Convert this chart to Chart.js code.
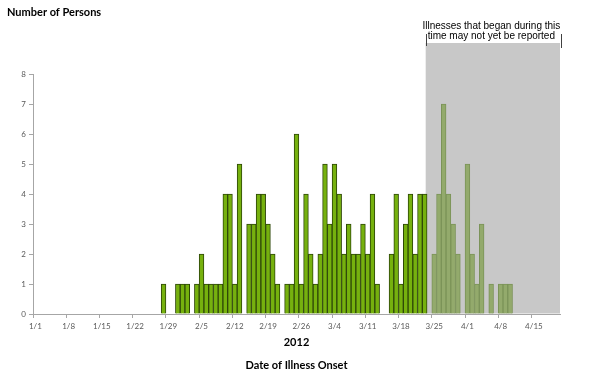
<!DOCTYPE html>
<html>
<head>
<meta charset="utf-8">
<script src="https://cdn.jsdelivr.net/npm/chart.js@4.4.1/dist/chart.umd.min.js"></script>
<style>
  html, body { margin: 0; padding: 0; background: #fff; }
  canvas { display: block; }
</style>
</head>
<body>
<canvas id="epiCurve" width="600" height="380"></canvas>
<script>
// persons by date of illness onset, 2012 -- one array per month, one value per day
const janCases = [0,0,0,0,0,0,0,0,0,0, 0,0,0,0,0,0,0,0,0,0, 0,0,0,0,0,0,0,1,0,0, 1];
const febCases = [1,1,0,1,2,1,1,1,1,4, 4,1,5,0,3,3,4,4,3,2, 1,0,1,1,6,1,4,2,1];
const marCases = [2,5,3,5,4,2,3,2,2,3, 2,4,1,0,0,2,4,1,3,4, 2,4,4,0,2,4,7,4,3,2, 0];
const aprCases = [5,2,1,3,0,1,0,1,1,1, 0,0,0,0,0,0,0,0,0,0];

const xTickLabels = ['1/1','1/8','1/15','1/22','1/29','2/5','2/12','2/19','2/26',
                     '3/4','3/11','3/18','3/25','4/1','4/8','4/15'];
const yMax = 8;
const pendingFrom = '3/24'; // illnesses from here on may not yet be reported
const noteLines = ['Illnesses that began during this', 'time may not yet be reported'];

const months = [janCases, febCases, marCases, aprCases];
const days = months.flatMap((m, mi) => m.map((_, d) => (mi + 1) + '/' + (d + 1)));
const cases = months.flat();
const cut = days.indexOf(pendingFrom);
const reported = cases.map((v, i) => (i < cut && v) ? v : null);
const pending = cases.map((v, i) => (i >= cut && v) ? v : null);

const axisGrey = '#A6A6A6';
const tickFont = { family: 'Lato', size: 8 };

// grey "may not yet be reported" box + bracket note + y title
const overlay = {
  id: 'overlay',
  beforeDatasetsDraw(chart) {
    const { ctx, chartArea, scales } = chart;
    const left = scales.x.getPixelForValue(cut - 1) + 1;
    ctx.save();
    ctx.fillStyle = '#C8C8C8';
    ctx.fillRect(left, 43, chartArea.right - left, chartArea.bottom - 43 - 0.5);
    ctx.restore();
  },
  afterDraw(chart) {
    const { ctx, chartArea, scales } = chart;
    const left = scales.x.getPixelForValue(cut - 1) + 1;
    const right = chartArea.right + 1;
    ctx.save();
    ctx.strokeStyle = '#404040';
    ctx.lineWidth = 1;
    ctx.beginPath();
    ctx.moveTo(Math.round(left) + 0.5, 34);
    ctx.lineTo(Math.round(left) + 0.5, 46);
    ctx.moveTo(Math.round(right) + 0.5, 34);
    ctx.lineTo(Math.round(right) + 0.5, 48);
    ctx.stroke();

    ctx.fillStyle = '#000';
    ctx.textAlign = 'center';
    ctx.textBaseline = 'middle';
    ctx.font = '10px "Liberation Sans", Arial, sans-serif';
    ctx.fillText(noteLines[0], (left + right) / 2 - 2, 26);
    ctx.fillText(noteLines[1], (left + right) / 2 - 2, 36.5);

    ctx.textAlign = 'left';
    ctx.font = 'bold 11px Lato, sans-serif';
    ctx.fillText('Number of Persons', 7, 12);
    ctx.restore();
  }
};

new Chart(document.getElementById('epiCurve'), {
  type: 'bar',
  data: {
    labels: days,
    datasets: [
      {
        label: 'Reported',
        data: reported,
        backgroundColor: '#76B10E',
        borderColor: '#2E4808',
        borderWidth: 1,
        barPercentage: 1,
        categoryPercentage: 1
      },
      {
        label: 'May not yet be reported',
        data: pending,
        backgroundColor: '#93AA6C',
        borderColor: '#7B9358',
        borderWidth: 1,
        barPercentage: 1,
        categoryPercentage: 1
      }
    ]
  },
  options: {
    responsive: false,
    animation: false,
    layout: { padding: { top: 74, right: 40, left: 0, bottom: 0 } },
    plugins: {
      legend: { display: false },
      tooltip: { enabled: false }
    },
    scales: {
      x: {
        stacked: true,
        afterFit: s => { s.height = 66; },
        border: { color: axisGrey },
        grid: {
          drawOnChartArea: false,
          tickLength: 4,
          color: c => xTickLabels.includes(days[c.index]) ? axisGrey : 'rgba(0,0,0,0)'
        },
        ticks: {
          autoSkip: false,
          maxRotation: 0,
          padding: 4,
          color: '#595959',
          font: tickFont,
          callback: (v, i) => xTickLabels.includes(days[i]) ? days[i] : ''
        },
        title: {
          display: true,
          text: ['2012', 'Date of Illness Onset'],
          color: '#000',
          font: { family: 'Lato', size: 11, weight: 'bold', lineHeight: 2.1 },
          padding: { top: 0, bottom: 2.5 }
        }
      },
      y: {
        stacked: true,
        min: 0,
        max: yMax,
        afterFit: s => { s.width = 33; },
        border: { color: axisGrey },
        grid: { drawOnChartArea: false, tickLength: 4, color: axisGrey },
        ticks: { stepSize: 1, padding: 3, color: '#595959', font: tickFont }
      }
    }
  },
  plugins: [overlay]
});
</script>
</body>
</html>
